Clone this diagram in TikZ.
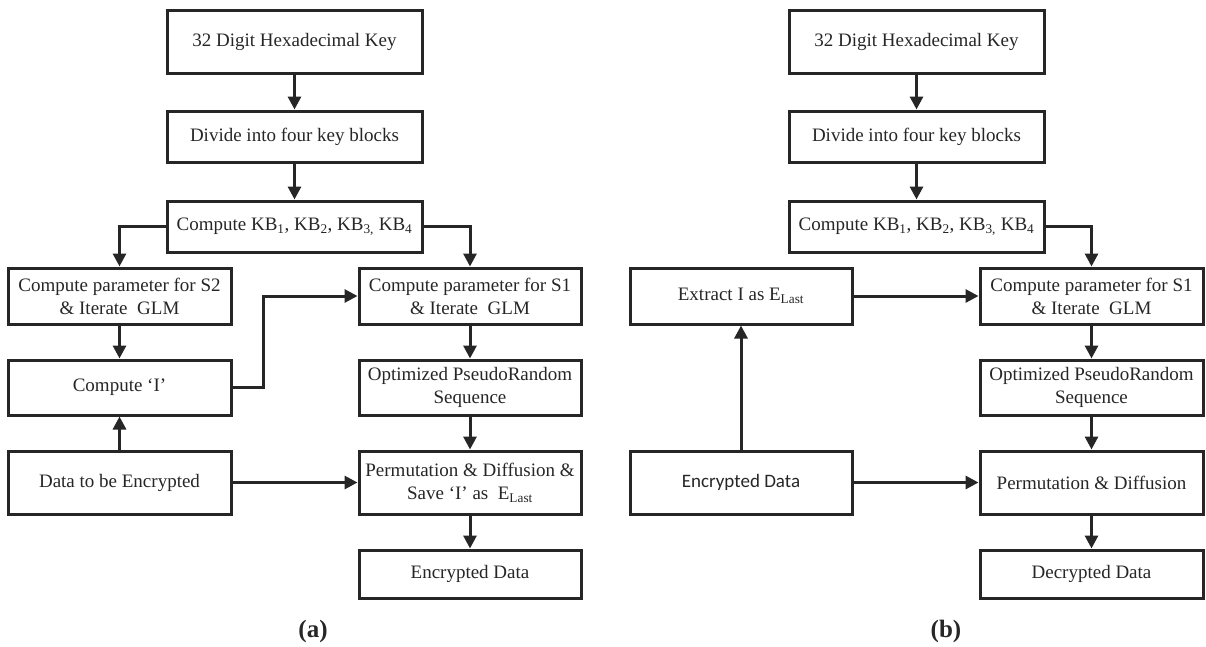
\documentclass[tikz,border=0pt]{standalone}
\usepackage{fontspec}
\setmainfont{Liberation Serif}
\newfontfamily\carlito{Carlito}
\usetikzlibrary{arrows.meta}
\tikzset{
  box/.style={draw=black!85, line width=3pt, align=center, inner sep=0pt,
    font=\fontsize{19}{23}\selectfont, text=black!85},
  arr/.style={draw=black!85, line width=3pt, -{Triangle[length=13pt,width=13pt]}},
  sublabel/.style={font=\fontsize{25}{29}\selectfont\bfseries, text=black!85}
}
\newcommand{\bx}[6]{% name, cx, cy, w, h, text
  \node[box, minimum width=#4pt, minimum height=#5pt] (#1) at (#2,#3) {#6};}
\begin{document}
\begin{tikzpicture}[x=1pt,y=-1pt]
\useasboundingbox (0,0) rectangle (1206,646);
% ---------- (a) ----------
\bx{a1}{294.5}{41.5}{255}{63}{32 Digit Hexadecimal Key}
\bx{a2}{294.5}{136.5}{255}{51}{Divide into four key blocks}
\bx{a3}{294.5}{226.5}{255}{51}{Compute KB\textsubscript{1}, KB\textsubscript{2}, KB\textsubscript{3,} KB\textsubscript{4}}
\bx{a4}{119.5}{296}{223}{56}{Compute parameter for S2\\\& Iterate \ GLM}
\bx{a5}{470}{296}{222}{56}{Compute parameter for S1\\\& Iterate \ GLM}
\bx{a6}{119.5}{387.5}{223}{55}{Compute ‘I’}
\bx{a7}{470}{387.5}{222}{55}{Optimized PseudoRandom\\Sequence}
\bx{a8}{119.5}{482.5}{223}{63}{Data to be Encrypted}
\bx{a9}{470}{482.5}{222}{63}{Permutation \& Diffusion \&\\Save ‘I’ as \ E\textsubscript{Last}}
\bx{a10}{470}{574}{222}{48}{Encrypted Data}
\node[sublabel] (la) at (313,631) {(a)};
\draw[arr] (a1) -- (a2);
\draw[arr] (a2) -- (a3);
\draw[arr] (a3.west) -| (a4.north);
\draw[arr] (a3.east) -| (a5.north);
\draw[arr] (a4) -- (a6);
\draw[arr] (a8) -- (a6);
\draw[arr] (a6.east) -- ++(31,0) |- (a5.west);
\draw[arr] (a5) -- (a7);
\draw[arr] (a7) -- (a9);
\draw[arr] (a8) -- (a9);
\draw[arr] (a9) -- (a10);
% ---------- (b) ----------
\bx{b1}{916.5}{41.5}{255}{63}{32 Digit Hexadecimal Key}
\bx{b2}{916.5}{136.5}{255}{51}{Divide into four key blocks}
\bx{b3}{916.5}{226.5}{255}{51}{Compute KB\textsubscript{1}, KB\textsubscript{2}, KB\textsubscript{3,} KB\textsubscript{4}}
\bx{b4}{741}{296}{222}{56}{Extract I as E\textsubscript{Last}}
\bx{b5}{1091.5}{296}{223}{56}{Compute parameter for S1\\\& Iterate \ GLM}
\bx{b7}{1091.5}{387.5}{223}{55}{Optimized PseudoRandom\\Sequence}
\bx{b8}{741}{482.5}{222}{63}{{\carlito Encrypted Data}}
\bx{b9}{1091.5}{482.5}{223}{63}{Permutation \& Diffusion}
\bx{b10}{1091.5}{574}{223}{48}{Decrypted Data}
\node[sublabel] (lb) at (946,631) {(b)};
\draw[arr] (b1) -- (b2);
\draw[arr] (b2) -- (b3);
\draw[arr] (b3.east) -| (b5.north);
\draw[arr] (b4) -- (b5);
\draw[arr] (b8) -- (b4);
\draw[arr] (b5) -- (b7);
\draw[arr] (b7) -- (b9);
\draw[arr] (b8) -- (b9);
\draw[arr] (b9) -- (b10);
\end{tikzpicture}
\end{document}
